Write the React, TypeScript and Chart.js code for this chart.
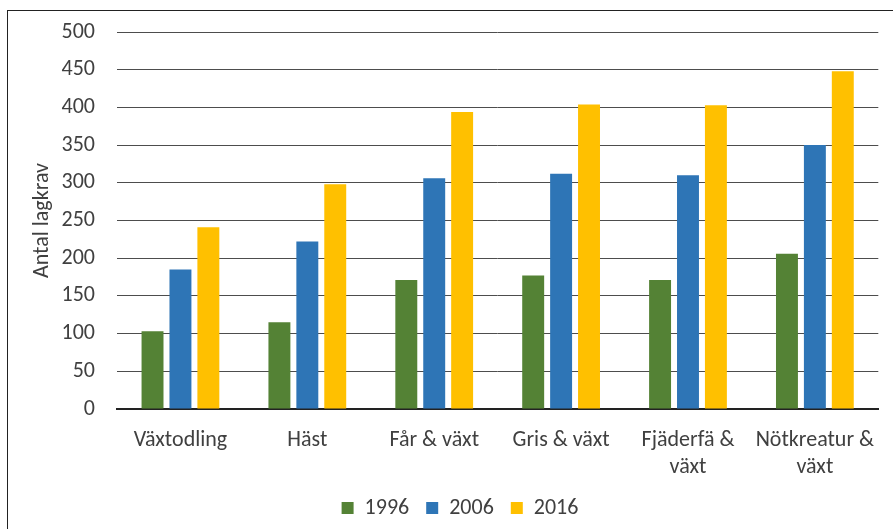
import React, { useEffect, useRef } from "react";
import { Chart, registerables } from "chart.js";

Chart.register(...registerables);

const categories: (string | string[])[] = [
  "Växtodling",
  "Häst",
  "Får & växt",
  "Gris & växt",
  ["Fjäderfä &", "växt"],
  ["Nötkreatur &", "växt"],
];
const seriesNames = ["1996", "2006", "2016"];
const values1996 = [103, 115, 171, 177, 171, 206];
const values2006 = [185, 222, 306, 312, 310, 350];
const values2016 = [241, 298, 394, 404, 403, 448];
const seriesColors = ["#548235", "#2e75b6", "#ffc000"];
const yTitle = "Antal lagkrav";

const FONT = 'Carlito, Calibri, Lato, "Open Sans", sans-serif';
const TEXT = "#404040";

const legendShift = {
  id: "legendShift",
  afterLayout(chart: any) {
    if (chart.legend) {
      chart.legend.left += 19;
      chart.legend.right += 19;
    }
  },
};

export default function App() {
  const ref = useRef<HTMLCanvasElement | null>(null);

  useEffect(() => {
    if (!ref.current) return;
    const data = [values1996, values2006, values2016];
    const chart = new Chart(ref.current, {
      type: "bar",
      data: {
        labels: categories,
        datasets: seriesNames.map((name, i) => ({
          label: name,
          data: data[i],
          backgroundColor: seriesColors[i],
          borderWidth: 0,
          categoryPercentage: 0.66,
          barPercentage: 0.786,
        })),
      },
      plugins: [legendShift],
      options: {
        animation: false,
        responsive: false,
        maintainAspectRatio: false,
        layout: { padding: { left: 0, right: 11, top: 32, bottom: 0 } },
        plugins: {
          tooltip: { enabled: false },
          legend: {
            position: "bottom",
            labels: {
              boxWidth: 12,
              boxHeight: 12,
              padding: 17,
              color: TEXT,
              font: { family: FONT, size: 22 },
            },
          },
        },
        scales: {
          x: {
            grid: { display: false, drawTicks: false },
            border: { display: true, color: "#222222", width: 2 },
            ticks: {
              color: TEXT,
              font: { family: FONT, size: 22, lineHeight: 1.22 },
              padding: 18,
              maxRotation: 0,
              autoSkip: false,
            },
            afterFit: (scale: any) => {
              scale.height = 71;
            },
          },
          y: {
            min: 0,
            max: 500,
            ticks: {
              stepSize: 50,
              color: TEXT,
              font: { family: FONT, size: 22 },
              padding: 22,
            },
            grid: { color: "#4d4d4d", lineWidth: 1, drawTicks: false },
            border: { display: false },
            title: {
              display: true,
              text: yTitle,
              color: TEXT,
              font: { family: FONT, size: 22 },
              padding: { top: 29, bottom: 0 },
            },
            afterFit: (scale: any) => {
              scale.width = 117;
              scale.paddingTop = 0;
              scale.paddingBottom = 0;
            },
          },
        },
      },
    });
    return () => chart.destroy();
  }, []);

  return (
    <div style={{ position: "fixed", left: 0, top: 0, width: 893, height: 529, background: "#fff", overflow: "hidden" }}>
      <div
        style={{
          position: "absolute",
          left: 7,
          top: 10,
          width: 900,
          height: 540,
          borderLeft: "1px solid #222",
          borderTop: "1px solid #222",
        }}
      />
      <canvas ref={ref} width={893} height={529} style={{ position: "absolute", left: 0, top: 0, width: 893, height: 529 }} />
    </div>
  );
}
